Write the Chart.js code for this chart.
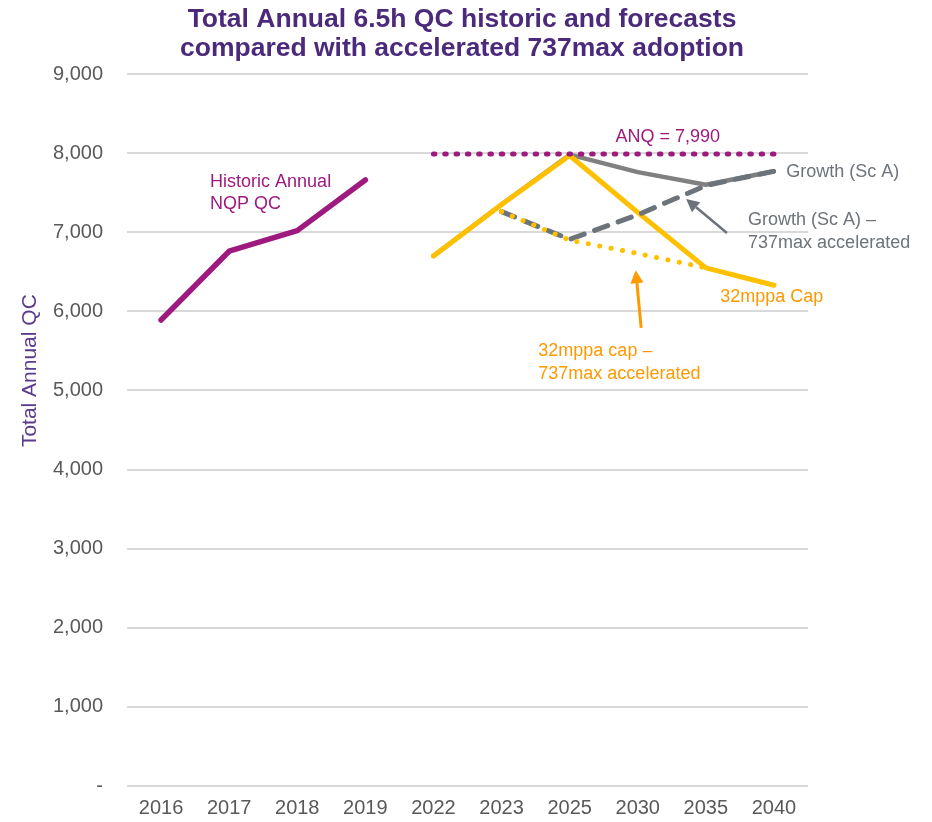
<!DOCTYPE html>
<html>
<head>
<meta charset="utf-8">
<script src="https://cdn.jsdelivr.net/npm/chart.js@4/dist/chart.umd.min.js"></script>
<style>
  html, body { margin: 0; padding: 0; background: #fff; }
  #wrap { width: 932px; height: 822px; }
</style>
</head>
<body>
<div id="wrap"><canvas id="chart" width="932" height="822"></canvas></div>
<script>
const years        = ["2016", "2017", "2018", "2019", "2022", "2023", "2025", "2030", "2035", "2040"];

const historic     = [5890, 6760, 7020, 7660, null, null, null, null, null, null];
const growthScA    = [null, null, null, null, 6700, 7350, 7980, 7760, 7600, 7770];
const cap32        = [null, null, null, null, 6700, 7350, 7970, 7250, 6550, 6330];
const growthAccel  = [null, null, null, null, null, 7260, 6910, 7220, 7590, 7770];
const capAccel     = [null, null, null, null, null, 7260, 6900, 6730, 6550, null];
const anq          = [null, null, null, null, 7990, 7990, 7990, 7990, 7990, 7990];

const yTicks       = [0, 1000, 2000, 3000, 4000, 5000, 6000, 7000, 8000, 9000];

const titleLines   = ["Total Annual 6.5h QC historic and forecasts",
                      "compared with accelerated 737max adoption"];

const PURPLE  = "#9E1A7E";
const YELLOW  = "#FFC000";
const ORANGE  = "#FF9900";
const GREY    = "#808080";
const DGREY   = "#6C737A";
const FONT    = "'Liberation Sans', Arial, sans-serif";

// labels and arrows, anchored on (category index, value)
const notes = [
    { text: "Historic Annual",     i: 0.72, v: 7640, color: PURPLE },
    { text: "NQP QC",              i: 0.72, v: 7360, color: PURPLE },
    { text: "ANQ = 7,990",         i: 7.44, v: 8200, color: PURPLE, align: "center" },
    { text: "Growth (Sc A)",       i: 9.18, v: 7765, color: DGREY },
    { text: "Growth (Sc A) \u2013", i: 8.62, v: 7150, color: DGREY },
    { text: "737max accelerated",  i: 8.62, v: 6860, color: DGREY },
    { text: "32mppa Cap",          i: 8.21, v: 6180, color: ORANGE },
    { text: "32mppa cap \u2013",   i: 5.54, v: 5500, color: ORANGE },
    { text: "737max accelerated",  i: 5.54, v: 5210, color: ORANGE }
];
const arrows = [
    { from: [8.31, 6990], to: [7.71, 7420], color: DGREY, width: 2.5 },
    { from: [7.05, 5790], to: [6.97, 6520], color: ORANGE, width: 3 }
];

const notePlugin = {
    id: "notes",
    afterDatasetsDraw(chart) {
        const ctx = chart.ctx;
        const x = chart.scales.x, y = chart.scales.y;
        const x0 = x.getPixelForValue(0);
        const step = x.getPixelForValue(1) - x0;
        const px = i => x0 + i * step;

        ctx.save();
        ctx.font = "18px " + FONT;
        ctx.textBaseline = "middle";
        notes.forEach(n => {
            ctx.fillStyle = n.color;
            ctx.textAlign = n.align || "left";
            ctx.fillText(n.text, px(n.i), y.getPixelForValue(n.v));
        });

        arrows.forEach(a => {
            const x1 = px(a.from[0]), y1 = y.getPixelForValue(a.from[1]);
            const x2 = px(a.to[0]),   y2 = y.getPixelForValue(a.to[1]);
            const ang = Math.atan2(y2 - y1, x2 - x1);
            const head = 13, half = 6.5;
            const bx = x2 - head * Math.cos(ang), by = y2 - head * Math.sin(ang);
            ctx.strokeStyle = a.color;
            ctx.fillStyle = a.color;
            ctx.lineWidth = a.width;
            ctx.beginPath();
            ctx.moveTo(x1, y1);
            ctx.lineTo(bx, by);
            ctx.stroke();
            ctx.beginPath();
            ctx.moveTo(x2, y2);
            ctx.lineTo(bx + half * Math.sin(ang), by - half * Math.cos(ang));
            ctx.lineTo(bx - half * Math.sin(ang), by + half * Math.cos(ang));
            ctx.closePath();
            ctx.fill();
        });

        // y axis title
        ctx.save();
        ctx.translate(30, y.getPixelForValue(5250));
        ctx.rotate(-Math.PI / 2);
        ctx.textAlign = "center";
        ctx.fillStyle = "#5B3B8C";
        ctx.font = "21px " + FONT;
        ctx.fillText("Total Annual QC", 0, 0);
        ctx.restore();

        // title
        ctx.font = "bold 26.5px " + FONT;
        ctx.fillStyle = "#4B2A7B";
        ctx.textAlign = "center";
        ctx.textBaseline = "alphabetic";
        titleLines.forEach((t, k) => ctx.fillText(t, 462, 27 + k * 29));
        ctx.restore();
    }
};

const line = (data, color, width, order, dash) => ({
    data: data,
    borderColor: color,
    backgroundColor: color,
    borderWidth: width,
    borderDash: dash || [],
    borderCapStyle: "round",
    borderJoinStyle: "round",
    pointRadius: 0,
    tension: 0,
    spanGaps: false,
    order: order
});

const config = {
    type: "line",
    data: {
        labels: years,
        datasets: [
            line(historic, PURPLE, 5.5, 5),
            line(growthScA, GREY, 4.5, 4),
            line(cap32, YELLOW, 5, 3),
            line(growthAccel, DGREY, 5, 2, [14, 11]),
            line(capAccel, YELLOW, 5, 1, [0.1, 11.5]),
            line(anq, PURPLE, 5, 0, [1.5, 9.8])
        ]
    },
    options: {
        responsive: false,
        animation: false,
        layout: { padding: { top: 74, left: 0, right: 0, bottom: 0 } },
        plugins: {
            legend: { display: false },
            tooltip: { enabled: false },
            title: { display: false }
        },
        scales: {
            x: {
                offset: true,
                grid: { display: false },
                border: { display: false },
                ticks: { color: "#595959", font: { family: FONT, size: 20 }, padding: 2,
                         maxRotation: 0, autoSkip: false },
                afterFit: s => { s.height = 31; }
            },
            y: {
                min: 0,
                max: 9000,
                afterBuildTicks: s => { s.ticks = yTicks.map(v => ({ value: v })); },
                grid: { color: "#D9D9D9", lineWidth: 2, drawTicks: false },
                border: { display: false },
                ticks: {
                    color: "#595959",
                    font: { family: FONT, size: 20 },
                    padding: 24,
                    callback: v => v === 0 ? "-" : v.toLocaleString("en-US")
                },
                afterFit: s => { s.width = 127; }
            },
            y2: {
                position: "right",
                display: true,
                grid: { display: false },
                border: { display: false },
                ticks: { display: false },
                afterFit: s => { s.width = 124; }
            }
        }
    },
    plugins: [notePlugin]
};

const context = document.getElementById("chart");
const chart = new Chart(context, config);
</script>
</body>
</html>
